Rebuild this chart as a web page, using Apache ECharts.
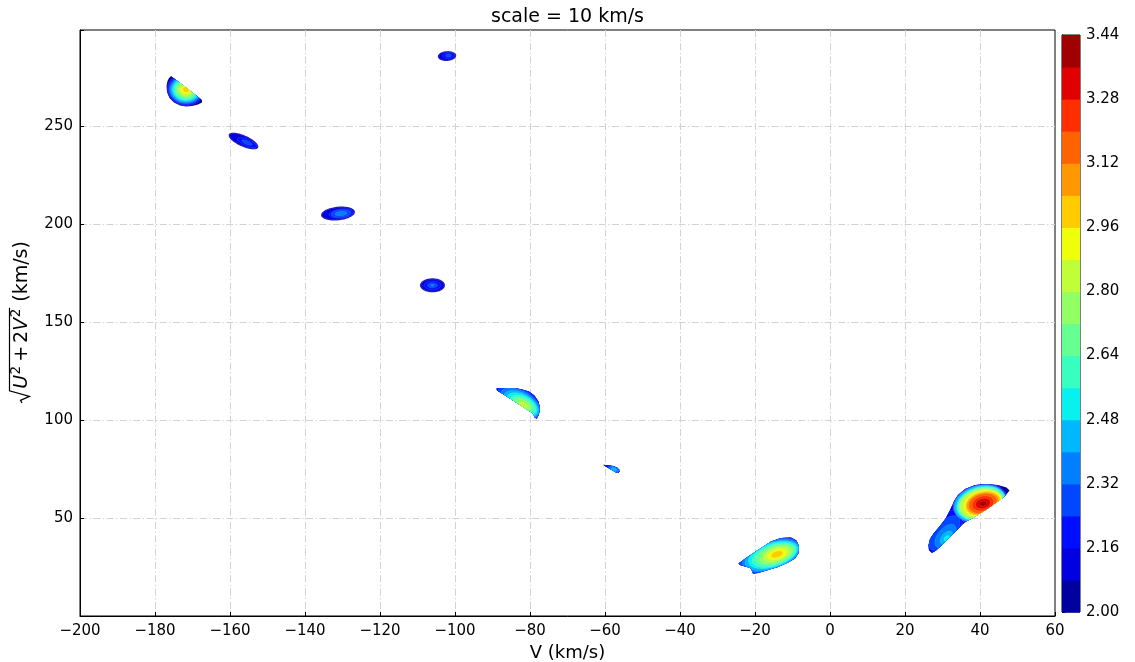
<!DOCTYPE html>
<html>
<head>
<meta charset="utf-8">
<script src="https://cdn.jsdelivr.net/npm/echarts@6/dist/echarts.min.js"></script>
<style>
html, body { margin: 0; padding: 0; background: #fff; }
#chart { width: 1135px; height: 662px; }
</style>
</head>
<body>
<div id="chart"></div>
<script>
// ---- axes ----
const xTicks = [-200, -180, -160, -140, -120, -100, -80, -60, -40, -20, 0, 20, 40, 60];
const yTicks = [50, 100, 150, 200, 250];

// ---- contour levels and the jet colours of the 18 filled bands ----
const levels = [2.00, 2.08, 2.16, 2.24, 2.32, 2.40, 2.48, 2.56, 2.64, 2.72,
                2.80, 2.88, 2.96, 3.04, 3.12, 3.20, 3.28, 3.36, 3.44];
const bandColors = ['#0000a0', '#0000e0', '#000eff', '#0047ff', '#0080ff', '#00b8ff',
                    '#09f1ee', '#37ffc0', '#65ff92', '#92ff64', '#c0ff37', '#eeff09',
                    '#ffcc00', '#ff9700', '#ff6300', '#ff2e00', '#e00000', '#a00000'];
const cbTicks = [2.00, 2.16, 2.32, 2.48, 2.64, 2.80, 2.96, 3.12, 3.28, 3.44];

// ---- density islands ----
// rings: [band, V centre, sqrt(U^2+2V^2) centre, half-size in V, half-size in y, tilt deg]
// outline: boundary of the sampled region around the island, [V, y] (null = none)
const ringsA = [
  [0, -171.5, 268.0, 6.40, 10.20, 0],
  [1, -171.73, 268.62, 5.07, 8.27, 0],
  [2, -171.73, 268.62, 4.80, 7.81, 0],
  [3, -171.73, 268.62, 4.53, 7.35, 0],
  [4, -171.73, 268.62, 4.27, 6.89, 0],
  [5, -171.73, 268.62, 3.95, 6.38, 0],
  [6, -171.73, 268.62, 3.60, 5.82, 0],
  [7, -171.73, 268.62, 3.20, 5.20, 0],
  [8, -171.73, 268.62, 2.80, 4.59, 0],
  [9, -171.73, 268.62, 2.40, 3.93, 0],
  [10, -171.73, 268.62, 1.92, 3.16, 0],
  [11, -171.73, 268.62, 1.39, 2.30, 0],
  [12, -171.73, 268.62, 0.80, 1.33, 0]
];
const outlineA = [
  [-175.73, 275.5], [-167.47, 263.27], [-167.47, 262.0], [-168.53, 260.97],
  [-170.13, 260.2], [-171.73, 259.95], [-173.33, 260.46], [-174.93, 262.0],
  [-176.13, 264.29], [-176.8, 267.35], [-176.93, 270.41], [-176.67, 272.96],
  [-176.27, 274.49]
];

const ringsB = [
  [0, -102.13, 285.71, 2.45, 2.50, 4],
  [1, -102.13, 285.71, 2.21, 2.14, 4],
  [2, -101.73, 285.97, 1.60, 1.53, 4],
  [3, -101.73, 285.97, 0.80, 0.77, 4]
];

const ringsC = [
  [0, -156.4, 242.35, 4.27, 2.86, -24],
  [1, -156.4, 242.35, 4.00, 2.45, -24],
  [2, -155.47, 241.58, 2.80, 1.68, -24],
  [3, -155.47, 241.58, 1.47, 0.87, -24]
];

const ringsE = [
  [0, -131.2, 205.36, 4.53, 3.47, 6],
  [1, -131.2, 205.36, 4.27, 2.96, 6],
  [2, -130.4, 205.36, 3.20, 2.30, 6],
  [3, -130.4, 205.36, 2.67, 1.84, 6],
  [4, -130.4, 205.36, 1.60, 1.02, 6]
];

const ringsF = [
  [0, -106.0, 168.72, 3.33, 3.57, 0],
  [1, -106.0, 168.72, 3.07, 3.06, 0],
  [2, -106.0, 168.72, 2.27, 2.19, 0],
  [3, -106.0, 168.72, 1.33, 1.28, 0],
  [4, -106.0, 168.72, 0.53, 0.51, 0]
];

const ringsG = [
  [0, -83.73, 110.71, 10.67, 12.76, -30],
  [1, -83.47, 110.2, 7.47, 7.65, -30],
  [2, -83.2, 109.69, 6.93, 7.14, -30],
  [3, -82.93, 109.18, 6.40, 6.63, -30],
  [4, -82.67, 108.67, 5.87, 6.12, -30],
  [5, -82.4, 108.16, 5.20, 5.51, -30],
  [6, -82.13, 107.91, 4.53, 4.85, -30],
  [7, -81.87, 107.65, 3.73, 4.08, -30],
  [8, -81.87, 107.65, 2.93, 3.21, -30],
  [9, -81.73, 107.65, 2.13, 2.30, -30],
  [10, -81.73, 107.65, 1.20, 1.33, -30]
];
const outlineG = [
  [-88.93, 116.07], [-86.67, 116.33], [-84.0, 116.33], [-82.13, 115.56],
  [-80.27, 114.54], [-78.8, 112.5], [-77.73, 109.44], [-77.33, 106.12],
  [-77.6, 103.06], [-78.13, 100.51], [-78.67, 101.02], [-79.2, 103.32],
  [-82.67, 107.65], [-86.4, 112.24], [-88.8, 115.05]
];

const ringsH = [
  [0, -57.6, 74.74, 5.33, 6.12, -20],
  [1, -58.13, 75.26, 2.93, 2.81, -20],
  [2, -57.87, 75.0, 2.40, 2.30, -20],
  [3, -57.6, 74.74, 1.87, 1.84, -20],
  [4, -57.6, 74.74, 1.33, 1.38, -20],
  [5, -57.6, 74.74, 0.80, 0.87, -20]
];
const outlineH = [
  [-60.4, 77.19], [-59.2, 76.89], [-57.87, 76.53], [-56.8, 75.77],
  [-56.27, 74.74], [-56.13, 73.72], [-56.53, 72.96], [-57.07, 73.21],
  [-58.67, 75.0], [-60.27, 76.79]
];

const ringsI = [
  [0, -16.53, 30.1, 13.33, 15.31, 18],
  [1, -16.53, 30.1, 9.60, 9.69, 18],
  [2, -16.27, 30.36, 9.07, 8.93, 18],
  [3, -16.0, 30.61, 8.53, 8.16, 18],
  [4, -15.73, 30.87, 8.00, 7.40, 18],
  [5, -15.47, 30.87, 7.47, 6.63, 18],
  [6, -15.2, 31.12, 6.80, 6.02, 18],
  [7, -14.93, 31.12, 6.13, 5.36, 18],
  [8, -14.67, 31.38, 5.33, 4.69, 18],
  [9, -14.4, 31.38, 4.53, 3.98, 18],
  [10, -14.27, 31.48, 3.60, 3.21, 18],
  [11, -14.13, 31.48, 2.67, 2.45, 18],
  [12, -14.13, 31.48, 1.60, 1.53, 18]
];
const outlineI = [
  [-24.4, 26.79], [-22.4, 29.59], [-19.2, 33.67], [-15.73, 38.01],
  [-13.07, 39.8], [-10.4, 40.05], [-8.93, 38.52], [-8.27, 35.46],
  [-8.4, 32.14], [-9.33, 29.34], [-11.2, 27.3], [-13.87, 25.0],
  [-16.53, 23.47], [-19.2, 21.94], [-20.53, 21.68], [-21.07, 24.23],
  [-22.13, 25.0], [-24.0, 26.02]
];

const ringsD = [
  [0, 36.8, 50.0, 18.67, 30.6, 0],
  [1, 40.0, 57.4, 7.47, 9.95, 15],
  [2, 40.0, 57.4, 7.33, 9.69, 15],
  [3, 40.0, 57.4, 7.20, 9.44, 15],
  [4, 40.0, 57.4, 7.07, 9.18, 15],
  [5, 40.0, 57.4, 6.93, 8.93, 15],
  [6, 40.27, 57.4, 6.67, 8.57, 15],
  [7, 40.27, 57.4, 6.40, 8.16, 15],
  [8, 40.27, 57.4, 6.13, 7.76, 15],
  [9, 40.27, 57.4, 5.87, 7.40, 15],
  [10, 40.27, 57.4, 5.60, 7.04, 15],
  [11, 40.8, 57.4, 5.20, 6.53, 15],
  [12, 40.8, 57.4, 4.80, 6.02, 15],
  [13, 40.8, 57.4, 4.40, 5.51, 15],
  [14, 40.8, 57.4, 3.87, 4.90, 15],
  [15, 40.8, 57.4, 2.93, 3.72, 15],
  [16, 40.8, 57.4, 2.00, 2.55, 15],
  [17, 40.8, 57.4, 0.93, 1.22, 15],
  [1, 30.13, 44.39, 8.00, 7.14, 50],
  [2, 30.27, 43.37, 6.93, 6.12, 50],
  [3, 30.53, 42.35, 5.60, 5.10, 50],
  [4, 30.8, 40.82, 3.73, 3.83, 50],
  [5, 31.07, 39.8, 2.13, 2.55, 50],
  [6, 31.2, 39.54, 0.93, 1.28, 50]
];
const outlineD = [
  [34.13, 61.73], [36.0, 64.8], [38.67, 66.84], [41.87, 67.35], [44.8, 66.84],
  [47.07, 65.56], [47.87, 64.03], [46.93, 61.73], [45.87, 59.95], [44.0, 57.4],
  [42.13, 54.85], [40.0, 52.3], [37.87, 49.74], [36.53, 48.47], [35.2, 46.43],
  [33.6, 43.37], [31.73, 39.8], [29.87, 36.22], [28.27, 33.42], [27.2, 32.14],
  [26.4, 33.67], [26.27, 36.22], [26.67, 39.29], [27.73, 42.35], [29.33, 45.92],
  [30.93, 50.0], [32.27, 55.1], [33.07, 58.67]
];

const islands = [
  { rings: ringsA, outline: outlineA },
  { rings: ringsB, outline: null },
  { rings: ringsC, outline: null },
  { rings: ringsE, outline: null },
  { rings: ringsF, outline: null },
  { rings: ringsG, outline: outlineG },
  { rings: ringsH, outline: outlineH },
  { rings: ringsI, outline: outlineI },
  { rings: ringsD, outline: outlineD }
];

// flatten, lowest band first so higher bands paint on top
const ringData = [];
islands.forEach((isl, k) => isl.rings.forEach(r => ringData.push(r.concat([k]))));
ringData.sort((p, q) => p[0] - q[0]);

const cbData = bandColors.map((c, i) => [i, levels[i], levels[i + 1]]);

const FONT = 'DejaVu Sans';

function renderRing(params, api) {
  const band = api.value(0);
  const c = api.coord([api.value(1), api.value(2)]);
  const s = api.size([api.value(3), api.value(4)]);
  const t = api.value(5) * Math.PI / 180;
  const pts = [];
  const N = 90;
  for (let k = 0; k < N; k++) {
    const a = k / N * 2 * Math.PI;
    const ex = s[0] * Math.cos(a), ey = s[1] * Math.sin(a);
    pts.push([c[0] + ex * Math.cos(t) - ey * Math.sin(t),
              c[1] - (ex * Math.sin(t) + ey * Math.cos(t))]);
  }
  const el = {
    type: 'polygon',
    shape: { points: pts },
    style: { fill: bandColors[band], stroke: 'rgba(255,255,255,0.28)', lineWidth: 0.5 }
  };
  const outline = islands[api.value(6)].outline;
  if (outline) {
    el.clipPath = { type: 'polygon', shape: { points: outline.map(p => api.coord(p)) } };
  }
  return el;
}

function renderBand(params, api) {
  const p0 = api.coord([0, api.value(1)]);
  const p1 = api.coord([1, api.value(2)]);
  return {
    type: 'rect',
    shape: { x: p0[0], y: p1[1], width: p1[0] - p0[0], height: p0[1] - p1[1] + 0.6 },
    style: { fill: bandColors[api.value(0)] }
  };
}

const minus = v => String(v).replace('-', '\u2212');

// ---- rotated mathtext-style y-axis title ----
const ctx = document.createElement('canvas').getContext('2d');
function tw(s, size, italic) {
  ctx.font = (italic ? 'italic ' : '') + size + 'px "' + FONT + '"';
  return ctx.measureText(s).width;
}
const F = 19, SF = 13.5, BASE = 7;
const parts = [
  { t: 'U', f: F, it: true, dy: 0, after: 0.5 },
  { t: '2', f: SF, it: false, dy: -8, after: 3 },
  { t: '+', f: F, it: false, dy: 0, after: 3, before: 1 },
  { t: '2', f: F, it: false, dy: 0, after: 0 },
  { t: 'V', f: F, it: true, dy: 0, after: 0.5 },
  { t: '2', f: SF, it: false, dy: -8, after: 0 }
];
const RAD = 13;
let radicandW = 0;
parts.forEach(p => { p.w = tw(p.t, p.f, p.it); radicandW += (p.before || 0) + p.w + p.after; });
const units = '(km/s)';
const GAP = 8;
const unitsW = tw(units, F, false);
const total = RAD + radicandW + GAP + unitsW;
const x0 = -total / 2;
const yTitleKids = [];
let cx = x0 + RAD + 1;
parts.forEach(p => {
  cx += (p.before || 0);
  yTitleKids.push({
    type: 'text',
    style: {
      text: p.t, x: cx, y: BASE + p.dy - 0.346 * p.f,
      fontSize: p.f, fontFamily: FONT, fontStyle: p.it ? 'italic' : 'normal',
      fill: '#000', align: 'left', verticalAlign: 'middle'
    }
  });
  cx += p.w + p.after;
});
const overY = BASE - F - 0.5;
yTitleKids.push({
  type: 'polyline',
  shape: { points: [[x0, BASE - 7], [x0 + 2.5, BASE - 8.5], [x0 + 6.5, BASE + 0.5],
                    [x0 + RAD - 1, overY], [x0 + RAD + radicandW + 2, overY]] },
  style: { stroke: '#000', lineWidth: 1.2, fill: null, lineJoin: 'miter' }
});
yTitleKids.push({
  type: 'text',
  style: {
    text: units, x: x0 + RAD + radicandW + GAP, y: BASE - 0.346 * F,
    fontSize: F, fontFamily: FONT, fill: '#000', align: 'left', verticalAlign: 'middle'
  }
});

const gridLine = { color: '#d2d2d2', width: 1, type: [7, 2.5, 1.3, 2.5] };

const chart = echarts.init(document.getElementById('chart'), null, { renderer: 'canvas' });
chart.setOption({
  animation: false,
  backgroundColor: '#fff',
  textStyle: { fontFamily: FONT },
  title: {
    text: 'scale = 10 km/s', left: 'center', top: 3,
    textStyle: { fontSize: 19, fontWeight: 'normal', color: '#000', fontFamily: FONT }
  },
  grid: [
    { left: 80, right: 80, top: 30, bottom: 46, show: true, borderColor: '#000', borderWidth: 1,
      containLabel: false, outerBoundsMode: 'none' },
    { left: 1062, width: 18, top: 35, height: 577, show: true, borderColor: '#000', borderWidth: 1,
      containLabel: false, outerBoundsMode: 'none' }
  ],
  xAxis: [
    {
      type: 'value', gridIndex: 0, min: -200, max: 60, interval: 20,
      name: 'V (km/s)', nameLocation: 'middle', nameGap: 25,
      nameTextStyle: { fontSize: 18, color: '#000', fontFamily: FONT },
      axisLine: { show: true, onZero: false, lineStyle: { color: '#000', width: 1 } },
      axisTick: { show: true, inside: true, length: 4, lineStyle: { color: '#000' } },
      axisLabel: { show: true, color: '#000', fontSize: 15, margin: 8, fontFamily: FONT,
                   formatter: v => xTicks.includes(v) ? minus(v) : '' },
      splitLine: { show: true, showMinLine: false, showMaxLine: false, lineStyle: gridLine }
    },
    { type: 'value', gridIndex: 1, min: 0, max: 1, show: false }
  ],
  yAxis: [
    {
      type: 'value', gridIndex: 0, min: 0, max: 299, interval: 50,
      axisLine: { show: true, onZero: false, lineStyle: { color: '#000', width: 1 } },
      axisTick: { show: true, inside: true, length: 4, lineStyle: { color: '#000' } },
      axisLabel: { show: true, color: '#000', fontSize: 15, margin: 7, fontFamily: FONT,
                   formatter: v => yTicks.includes(v) ? String(v) : '' },
      splitLine: { show: true, showMinLine: false, showMaxLine: false, lineStyle: gridLine }
    },
    {
      type: 'value', gridIndex: 1, min: 2.00, max: 3.44, interval: 0.16, position: 'right',
      axisLine: { show: true, lineStyle: { color: '#000', width: 1 } },
      axisTick: { show: true, inside: false, length: 3.5, lineStyle: { color: '#000' } },
      axisLabel: { show: true, color: '#000', fontSize: 15, margin: 6, fontFamily: FONT,
                   formatter: v => {
                     const hit = cbTicks.find(t => Math.abs(t - v) < 1e-6);
                     return hit === undefined ? '' : hit.toFixed(2);
                   } },
      splitLine: { show: false }
    }
  ],
  series: [
    {
      type: 'custom', xAxisIndex: 0, yAxisIndex: 0,
      renderItem: renderRing, data: ringData, silent: true,
      encode: { x: 1, y: 2 }
    },
    {
      type: 'custom', xAxisIndex: 1, yAxisIndex: 1,
      renderItem: renderBand, data: cbData, silent: true,
      encode: { x: 0, y: [1, 2] }
    }
  ],
  graphic: [
    { type: 'group', x: 22, y: 322, rotation: Math.PI / 2, children: yTitleKids }
  ]
});
</script>
</body>
</html>
